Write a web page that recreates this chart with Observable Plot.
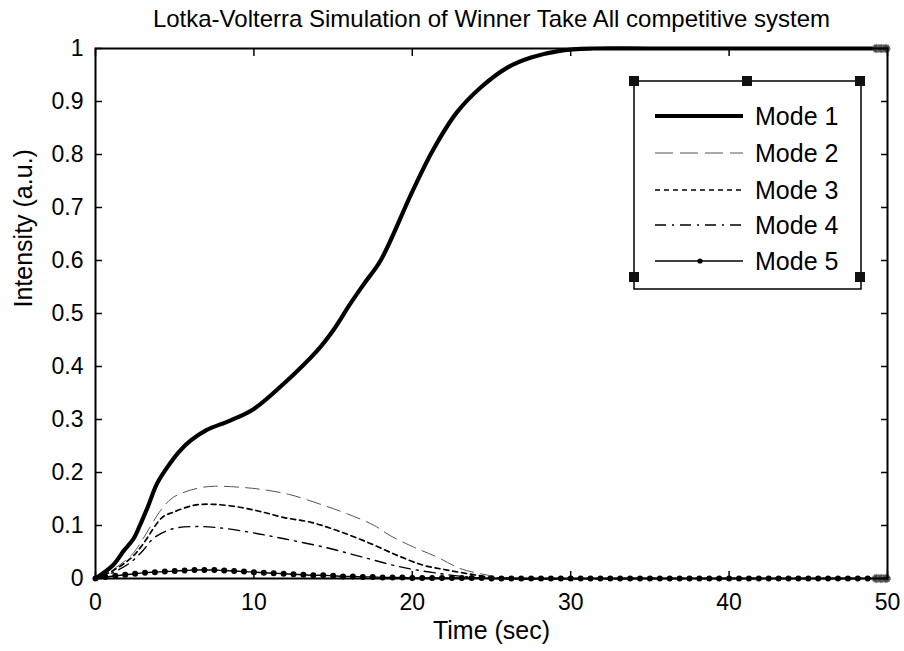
<!DOCTYPE html>
<html>
<head>
<meta charset="utf-8">
<script src="https://cdn.jsdelivr.net/npm/d3@7"></script>
<script src="https://cdn.jsdelivr.net/npm/@observablehq/plot@0.6"></script>
<style>
  html, body { margin: 0; padding: 0; background: white; }
  #chart { position: relative; width: 904px; height: 651px; }
  #chart svg { display: block; }
</style>
</head>
<body>
<div id="chart"></div>
<script>
// ---------- data ----------
const titleText = "Lotka-Volterra Simulation of Winner Take All competitive system";
const xLabelText = "Time (sec)";
const yLabelText = "Intensity (a.u.)";
const xTicks = [0, 10, 20, 30, 40, 50];
const xTickLabels = ["0", "10", "20", "30", "40", "50"];
const yTicks = [0, 0.1, 0.2, 0.3, 0.4, 0.5, 0.6, 0.7, 0.8, 0.9, 1];
const yTickLabels = ["0", "0.1", "0.2", "0.3", "0.4", "0.5", "0.6", "0.7", "0.8", "0.9", "1"];
const seriesNames = ["Mode 1", "Mode 2", "Mode 3", "Mode 4", "Mode 5"];

const mode1T = [0, 1.1, 1.8, 2.4, 2.8, 3.3, 3.9, 4.7, 5.3, 6.0, 7.0, 8.5, 10.0, 11.9, 14.0, 15.0, 16.1, 17.0, 18.0, 20.0, 21.3, 22.8, 24.3, 26.0, 27.5, 29.4, 31.4, 35, 40, 45, 50];
const mode1V = [0, 0.025, 0.053, 0.075, 0.1, 0.135, 0.18, 0.217, 0.24, 0.26, 0.28, 0.298, 0.32, 0.368, 0.43, 0.468, 0.519, 0.558, 0.6, 0.73, 0.808, 0.879, 0.926, 0.964, 0.983, 0.996, 1, 1, 1, 1, 1];

const mode2T = [0, 1, 2.3, 3, 4.1, 4.9, 6.4, 7.5, 9.2, 10.5, 12.3, 14.4, 15.9, 17.6, 18.6, 20.1, 21.6, 23, 24.3, 25.5, 27, 35, 50];
const mode2V = [0, 0.015, 0.045, 0.075, 0.128, 0.153, 0.17, 0.174, 0.172, 0.168, 0.158, 0.138, 0.122, 0.1, 0.081, 0.059, 0.04, 0.019, 0.009, 0.003, 0, 0, 0];

const mode3T = [0, 1, 2.3, 3, 4.2, 4.9, 6.2, 7.4, 9.2, 10.6, 11.9, 13.6, 15.3, 17.2, 19.1, 20.7, 22, 23.5, 25, 26, 35, 50];
const mode3V = [0, 0.013, 0.04, 0.065, 0.115, 0.125, 0.138, 0.14, 0.134, 0.125, 0.115, 0.106, 0.09, 0.068, 0.043, 0.025, 0.017, 0.009, 0.002, 0, 0, 0];

const mode4T = [0, 1, 2.2, 3, 3.7, 4.9, 6.2, 7.7, 9.8, 11.9, 14.6, 16.9, 19.4, 21.8, 23.5, 25, 35, 50];
const mode4V = [0, 0.01, 0.03, 0.053, 0.077, 0.094, 0.098, 0.096, 0.087, 0.075, 0.058, 0.04, 0.021, 0.009, 0.003, 0, 0, 0];

// Mode 5 sampled every 0.625 s (one marker per sample)
const mode5Step = 0.625;
const mode5V = [0, 0.003, 0.005, 0.007, 0.009, 0.011, 0.012, 0.013, 0.014, 0.015, 0.016, 0.016, 0.016, 0.015, 0.014, 0.013,
  0.012, 0.011, 0.010, 0.009, 0.008, 0.007, 0.006, 0.006, 0.005, 0.004, 0.004, 0.003, 0.003, 0.002, 0.002, 0.002,
  0.001, 0.001, 0.001, 0.001, 0.001, 0.001, 0.001, 0.001, 0, 0, 0, 0, 0, 0, 0, 0,
  0, 0, 0, 0, 0, 0, 0, 0, 0, 0, 0, 0, 0, 0, 0, 0,
  0, 0, 0, 0, 0, 0, 0, 0, 0, 0, 0, 0, 0, 0, 0, 0, 0];

const endMarkT = [49.3, 49.6, 49.9];
const endMarkV = [1, 0];

// ---------- build tables ----------
const zip = (T, V) => T.map((t, i) => ({t, v: V[i]}));
const m1 = zip(mode1T, mode1V);
const m2 = zip(mode2T, mode2V);
const m3 = zip(mode3T, mode3V);
const m4 = zip(mode4T, mode4V);
const m5 = mode5V.map((v, i) => ({t: i * mode5Step, v}));
const ends = endMarkV.flatMap(v => endMarkT.map(t => ({t, v})));

const font = "'Liberation Sans', Arial, Helvetica, sans-serif";
const noLabel = () => "";

const chart = Plot.plot({
  width: 904,
  height: 651,
  marginLeft: 95,
  marginRight: 17,
  marginTop: 48,
  marginBottom: 73,
  style: {fontFamily: font, fontSize: "23px", color: "black", background: "white"},
  x: {domain: [0, 50], label: null},
  y: {domain: [0, 1], label: null},
  marks: [
    Plot.line(m2, {x: "t", y: "v", stroke: "#555", strokeWidth: 1, strokeDasharray: "14,7", curve: "catmull-rom"}),
    Plot.line(m3, {x: "t", y: "v", stroke: "black", strokeWidth: 1.7, strokeDasharray: "5,4", curve: "catmull-rom"}),
    Plot.line(m4, {x: "t", y: "v", stroke: "black", strokeWidth: 1.4, strokeDasharray: "11,6,2,6", curve: "catmull-rom"}),
    Plot.line(m5, {x: "t", y: "v", stroke: "black", strokeWidth: 1.4, curve: "catmull-rom"}),
    Plot.dot(m5, {x: "t", y: "v", r: 3, fill: "black", stroke: "none"}),
    Plot.line(m1, {x: "t", y: "v", stroke: "black", strokeWidth: 4.2, curve: "catmull-rom"}),
    Plot.dot(ends, {x: "t", y: "v", r: 4, fill: "#444", stroke: "#888", strokeDasharray: "1,1"}),
    Plot.frame({stroke: "black", strokeWidth: 2}),
    Plot.axisX(xTicks, {tickSize: 0, tickPadding: 15, fontSize: 23, tickFormat: (d, i) => xTickLabels[i]}),
    Plot.axisX(xTicks, {tickSize: -7, strokeWidth: 1.5, tickFormat: noLabel}),
    Plot.axisX(xTicks, {anchor: "top", tickSize: -7, strokeWidth: 1.5, tickFormat: noLabel}),
    Plot.axisY(yTicks, {tickSize: 0, tickPadding: 12, fontSize: 23, tickFormat: (d, i) => yTickLabels[i]}),
    Plot.axisY(yTicks, {tickSize: -7, strokeWidth: 1.5, tickFormat: noLabel}),
    Plot.axisY(yTicks, {anchor: "right", tickSize: -7, strokeWidth: 1.5, tickFormat: noLabel}),
    Plot.text([titleText], {frameAnchor: "top", dy: -39, fontSize: 24}),
    Plot.text([xLabelText], {frameAnchor: "bottom", dy: 60, fontSize: 25}),
    Plot.text([yLabelText], {frameAnchor: "left", dx: -72, dy: -6, rotate: -90, fontSize: 25})
  ]
});

const container = document.getElementById("chart");
container.appendChild(chart);

// ---------- legend overlay ----------
const legendStyles = [
  {w: 4.2, dash: null, color: "black", dot: false},
  {w: 1, dash: "18,7", color: "#555", dot: false},
  {w: 1.7, dash: "5,4", color: "black", dot: false},
  {w: 1.4, dash: "11,6,2,6", color: "black", dot: false},
  {w: 1.4, dash: null, color: "black", dot: true}
];
const legendRowY = [116, 153, 190, 225, 261];

const leg = d3.select(container).append("svg")
  .attr("width", 904).attr("height", 651)
  .style("position", "absolute").style("left", "0px").style("top", "0px")
  .style("pointer-events", "none");

leg.append("rect")
  .attr("x", 634).attr("y", 81).attr("width", 227).attr("height", 208)
  .attr("fill", "white").attr("stroke", "black").attr("stroke-width", 1.5);

[[634, 81], [747, 81], [860, 81], [634, 277], [860, 277]].forEach(([cx, cy]) => {
  leg.append("rect").attr("x", cx - 5).attr("y", cy - 5).attr("width", 10).attr("height", 10).attr("fill", "#111");
});

seriesNames.forEach((name, i) => {
  const s = legendStyles[i];
  const y = legendRowY[i];
  leg.append("line")
    .attr("x1", 655).attr("x2", 743).attr("y1", y).attr("y2", y)
    .attr("stroke", s.color).attr("stroke-width", s.w)
    .attr("stroke-dasharray", s.dash);
  if (s.dot) leg.append("circle").attr("cx", 700).attr("cy", y).attr("r", 2.6).attr("fill", "black");
  leg.append("text")
    .attr("x", 755).attr("y", y).attr("dy", "0.35em")
    .attr("font-family", font).attr("font-size", 25).attr("fill", "black")
    .text(name);
});
</script>
</body>
</html>
